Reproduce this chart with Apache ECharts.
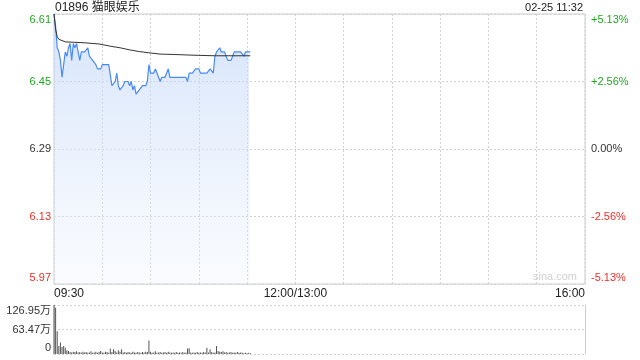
<!DOCTYPE html>
<html>
<head>
<meta charset="utf-8">
<script src="https://cdn.jsdelivr.net/npm/echarts@6/dist/echarts.min.js"></script>
<style>
html,body{margin:0;padding:0;background:#fff;}
#chart{width:640px;height:360px;}
</style>
</head>
<body>
<div id="chart"></div>
<script>
// ---- data ----
const stockTitle = '01896 猫眼娱乐';
const stamp = '02-25 11:32';
const watermark = 'sina.com';
const prevClose = 6.29;
// one price per minute from 09:30 (index 0) to 11:32 (index 122)
const prices = [
  6.61,6.58,6.53,6.52,6.50,6.46,6.49,6.52,6.51,6.53,
  6.54,6.50,6.54,6.53,6.54,6.52,6.50,6.52,6.52,6.52,
  6.52,6.53,6.51,6.51,6.50,6.50,6.49,6.48,6.48,6.48,
  6.49,6.49,6.49,6.49,6.49,6.49,6.44,6.44,6.45,6.47,
  6.44,6.43,6.43,6.44,6.45,6.45,6.45,6.44,6.45,6.43,
  6.44,6.42,6.42,6.43,6.43,6.44,6.44,6.44,6.45,6.49,
  6.47,6.47,6.47,6.48,6.47,6.46,6.45,6.46,6.46,6.46,
  6.47,6.48,6.46,6.46,6.46,6.46,6.46,6.46,6.46,6.46,
  6.46,6.46,6.46,6.45,6.47,6.47,6.47,6.47,6.48,6.48,
  6.48,6.47,6.47,6.47,6.47,6.47,6.47,6.48,6.48,6.47,
  6.51,6.52,6.52,6.53,6.52,6.52,6.52,6.51,6.50,6.50,
  6.50,6.51,6.52,6.52,6.52,6.52,6.52,6.52,6.51,6.52,
  6.52,6.52,6.52
];
// average price line, read at these minutes
const avgMinutes = [0,1,2,3,4,7,12,18,28,36,41,47,53,59,66,75,82,90,100,110,122];
const avgPrices  = [6.61,6.574,6.556,6.55,6.547,6.544,6.543,6.542,6.539,6.533,6.53,6.525,6.521,6.518,6.515,6.514,6.513,6.512,6.511,6.511,6.511];
// volume per minute, in 万
const volumes = [
  126.95,120,59,21,30,18,21,16,10,8,
  5,4,6,5,7,4,5,3,6,4,
  5,3,4,7,3,4,6,3,5,8,
  4,3,6,5,3,14,5,12,8,4,
  10,6,12,4,5,3,5,4,3,6,
  4,3,5,4,3,5,4,6,5,35,
  6,3,4,7,3,4,5,3,4,5,
  3,6,4,3,4,3,5,3,4,3,
  5,3,4,14,15,4,3,4,3,5,
  3,4,3,5,4,16,4,12,5,3,
  4,21,8,6,5,7,4,5,3,4,
  5,3,4,3,5,3,4,3,2,3,
  2,3,2
];
const priceTicks = ['5.97','6.13','6.29','6.45','6.61'];
const pctTicks = ['-5.13%','-2.56%','0.00%','+2.56%','+5.13%'];
const volTicks = ['0','63.47万','126.95万'];
const timeTicks = {0:'09:30',150:'12:00/13:00',330:'16:00'};

// ---- chart ----
const GREEN = '#22a622', RED = '#e8302a', GRAY = '#333';
const FONT = '"Liberation Sans", Arial, "Noto Sans CJK SC", sans-serif';
const toCents = p => +((p - prevClose) * 100).toFixed(3);
const priceData = prices.map((p, i) => [i, toCents(p)]);
const avgData = avgMinutes.map((m, i) => [m, toCents(avgPrices[i])]);
const volData = volumes.map((v, i) => [i, v]);

const richBase = {fontSize: 11, fontFamily: FONT};
const rich = {
  gTop: Object.assign({color: GREEN, padding: [12,0,0,0]}, richBase),
  g: Object.assign({color: GREEN}, richBase),
  z: Object.assign({color: GRAY}, richBase),
  r: Object.assign({color: RED}, richBase),
  rBot: Object.assign({color: RED, padding: [0,0,12,0]}, richBase),
  kTop: Object.assign({color: GRAY, padding: [12,0,0,0]}, richBase),
  k: Object.assign({color: GRAY}, richBase),
  kBot: Object.assign({color: GRAY, padding: [0,0,12,0]}, richBase)
};
const styleFor = i => ['rBot','r','z','g','gTop'][i];
const gridLine = {show: true, lineStyle: {color: '#d2d2d2', type: [2, 2], width: 1}};

const chart = echarts.init(document.getElementById('chart'), null, {renderer: 'canvas'});
chart.setOption({
  animation: false,
  backgroundColor: '#fff',
  graphic: [
    {type: 'text', left: 55, top: 2, style: {text: stockTitle, fontSize: 12, fontFamily: FONT, fill: '#222'}},
    {type: 'text', right: 57, top: 2, style: {text: stamp, fontSize: 11, fontFamily: FONT, fill: '#222'}},
    {type: 'text', right: 63, top: 271, style: {text: watermark, fontSize: 11, fontFamily: FONT, fill: '#d0d0d0'}}
  ],
  grid: [
    {left: 54, right: 55, top: 14, height: 270, show: true, borderColor: '#cccccc', borderWidth: 1},
    {left: 54, right: 55, top: 305, height: 49}
  ],
  xAxis: [
    {type: 'value', gridIndex: 0, min: 0, max: 330, interval: 30,
     axisLine: {show: false}, axisTick: {show: false}, splitLine: gridLine,
     axisLabel: {show: true, margin: 4, fontSize: 12, fontFamily: FONT, color: '#222',
       showMinLabel: true, showMaxLabel: true, alignMinLabel: 'left', alignMaxLabel: 'right',
       formatter: v => timeTicks[v] || ''}},
    {type: 'value', gridIndex: 1, min: 0, max: 330, interval: 30,
     axisLine: {show: false}, axisTick: {show: false}, splitLine: {show: false}, axisLabel: {show: false}}
  ],
  yAxis: [
    {type: 'value', gridIndex: 0, min: -32, max: 32, interval: 16, position: 'left',
     axisLine: {show: false}, axisTick: {show: false}, splitLine: gridLine,
     axisLabel: {margin: 3, rich: rich, formatter: v => {
       const i = Math.round((v + 32) / 16); return '{' + styleFor(i) + '|' + priceTicks[i] + '}';}}},
    {type: 'value', gridIndex: 0, min: -32, max: 32, interval: 16, position: 'right',
     axisLine: {show: false}, axisTick: {show: false}, splitLine: {show: false},
     axisLabel: {margin: 6, rich: rich, formatter: v => {
       const i = Math.round((v + 32) / 16); return '{' + styleFor(i) + '|' + pctTicks[i] + '}';}}},
    {type: 'value', gridIndex: 1, min: 0, max: 126.95, interval: 63.475, position: 'left',
     axisLine: {show: true, lineStyle: {color: '#cccccc'}}, axisTick: {show: false}, splitLine: gridLine,
     axisLabel: {margin: 3, rich: rich, formatter: v => {
       const i = Math.round(v / 63.475); return '{' + ['kBot','k','kTop'][i] + '|' + volTicks[i] + '}';}}},
    {type: 'value', gridIndex: 1, min: 0, max: 126.95, interval: 63.475, position: 'right',
     axisLine: {show: true, lineStyle: {color: '#cccccc'}}, axisTick: {show: false},
     splitLine: {show: false}, axisLabel: {show: false}}
  ],
  series: [
    {type: 'line', xAxisIndex: 0, yAxisIndex: 0, data: priceData, showSymbol: false, symbol: 'none',
     lineStyle: {color: '#4a8af5', width: 1.2},
     areaStyle: {origin: 'start', color: new echarts.graphic.LinearGradient(0, 0, 0, 1, [
       {offset: 0, color: 'rgba(190,212,248,0.95)'}, {offset: 1, color: 'rgba(234,241,253,0.4)'}])}},
    {type: 'line', xAxisIndex: 0, yAxisIndex: 0, data: avgData, showSymbol: false, symbol: 'none',
     lineStyle: {color: '#333', width: 1}},
    {type: 'bar', xAxisIndex: 1, yAxisIndex: 2, data: volData, barWidth: 1,
     itemStyle: {color: '#555'}}
  ]
});
</script>
</body>
</html>
